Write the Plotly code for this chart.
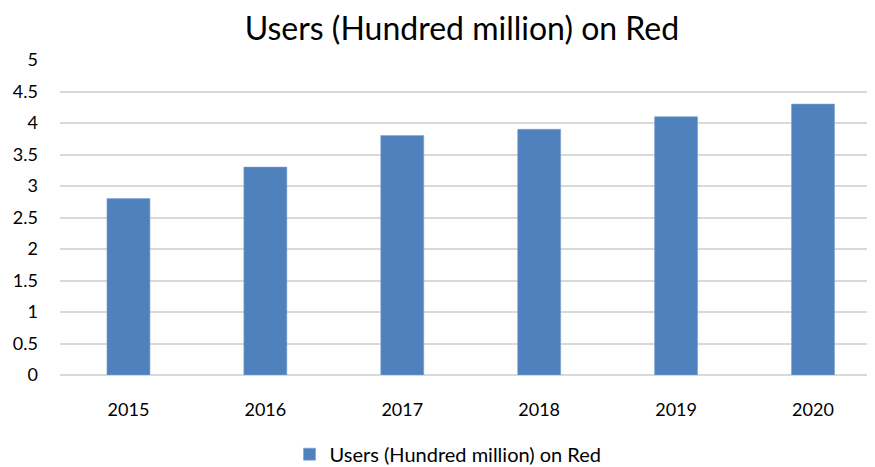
import plotly.graph_objects as go

years = ["2015", "2016", "2017", "2018", "2019", "2020"]
users = [2.8, 3.3, 3.8, 3.9, 4.1, 4.3]
series_name = "Users (Hundred million) on Red"
y_ticks = [0, 0.5, 1, 1.5, 2, 2.5, 3, 3.5, 4, 4.5, 5]

FONT = "Lato, 'Open Sans', sans-serif"

fig = go.Figure()
fig.add_trace(go.Bar(
    x=years, y=users, name=series_name,
    marker=dict(color="#4F81BD", line=dict(color="#7FA2D0", width=0.6)),
))

# the page body adds an 8px margin, so the figure is sized to the visible area
fig.update_layout(
    width=867, height=459,
    margin=dict(l=52, r=0, t=52, b=92, autoexpand=False),
    paper_bgcolor="white", plot_bgcolor="white",
    font=dict(family=FONT, size=18, color="#000000"),
    title=dict(text=series_name, x=0.5236, xanchor="center", y=0.955, yanchor="middle",
               font=dict(family=FONT, size=32, color="#000000")),
    bargap=0.686,
    showlegend=True,
    legend=dict(orientation="h", xref="container", yref="container",
                x=0.5075, xanchor="center", y=0.028, yanchor="middle",
                font=dict(family=FONT, size=20)),
)
fig.update_xaxes(
    type="category", range=[-0.5, 5.453], showgrid=False, showline=False,
    ticks="", ticklabelstandoff=22, tickfont=dict(size=18), automargin=False,
)
fig.update_yaxes(
    range=[0, 5], tickvals=y_ticks, ticktext=[f"{v:g}" for v in y_ticks],
    showgrid=True, gridcolor="#D9D9D9", gridwidth=1.5,
    zeroline=True, zerolinecolor="#D9D9D9", zerolinewidth=1.5,
    showline=False, ticks="", ticklabelstandoff=21, tickfont=dict(size=18),
    automargin=False,
)

fig.write_html("out.html")
